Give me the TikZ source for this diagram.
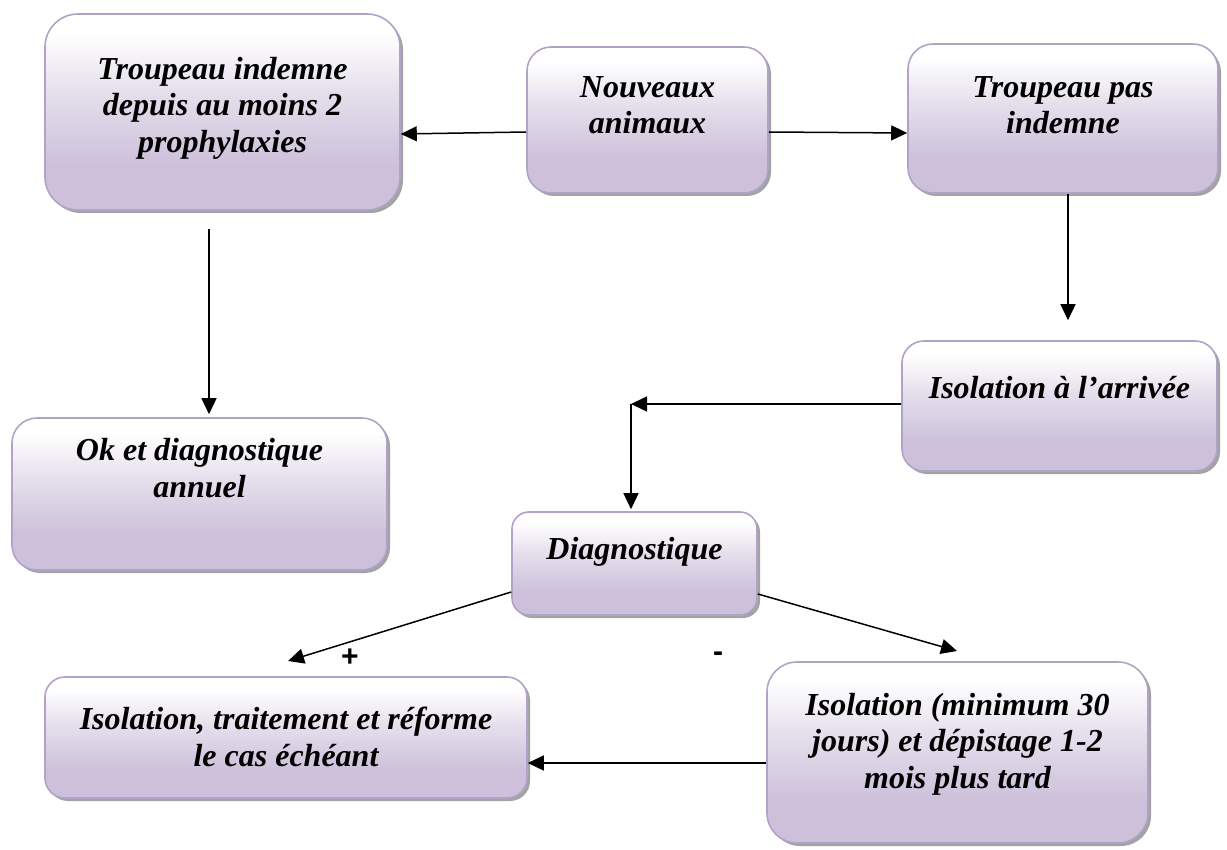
\documentclass[tikz,border=0pt]{standalone}
\usepackage{fontspec}
\setmainfont{Liberation Serif}
\newfontfamily\signfont{Liberation Sans}
\usetikzlibrary{arrows.meta,shadows}

\definecolor{lavdark}{RGB}{204,192,218}
\definecolor{lavmid}{RGB}{229,223,236}
\definecolor{lavedge}{RGB}{179,162,199}

% white at the top, lavender towards the bottom
\pgfdeclareverticalshading{boxshade}{100bp}{color(0bp)=(lavdark); color(25bp)=(lavdark); color(36bp)=(lavdark); color(55bp)=(lavmid); color(70bp)=(white); color(100bp)=(white)}

\tikzset{
  box/.style={draw=lavedge, line width=1.6pt, shading=boxshade, inner sep=0pt,
    drop shadow={shadow xshift=3pt, shadow yshift=-3pt, fill=black!40, opacity=0.9}},
  boxsize/.style 2 args={minimum width=#1pt, minimum height=#2pt},
  boxtext/.style={font=\fontsize{32}{36.5}\selectfont\bfseries\itshape, align=center, inner sep=0pt},
  sign/.style={font=\signfont\bfseries\fontsize{30}{34}\selectfont, inner sep=0pt},
  flow/.style={line width=1.5pt, -{Triangle[length=16pt,width=15pt]}},
}

\begin{document}
\begin{tikzpicture}[x=1pt, y=-1pt]
\useasboundingbox[fill=white] (0,0) rectangle (1227,850);

% boxes
\node[box, boxsize={355}{196}, rounded corners=33pt] (ind)  at (222.5,112)   {};
\node[box, boxsize={241}{146}, rounded corners=24pt] (nouv) at (647.5,120)   {};
\node[box, boxsize={310}{149}, rounded corners=25pt] (pas)  at (1063,118.5)  {};
\node[box, boxsize={315}{130}, rounded corners=22pt] (isoa) at (1059.5,406)  {};
\node[box, boxsize={375}{152}, rounded corners=25pt] (ok)   at (199.5,494)   {};
\node[box, boxsize={245}{103}, rounded corners=17pt] (diag) at (634.5,563.5) {};
\node[box, boxsize={482}{121}, rounded corners=20pt] (isot) at (286,737.5)   {};
\node[box, boxsize={381}{181}, rounded corners=30pt] (isom) at (957.5,752.5) {};

% box texts
\node[boxtext] (ind-t)  at (222.5,108) {Troupeau indemne\\depuis au moins 2\\prophylaxies};
\node[boxtext] (nouv-t) at (647.5,105) {Nouveaux\\animaux};
\node[boxtext] (pas-t)  at (1063,105)  {Troupeau pas\\indemne};
\node[boxtext] (isoa-t) at (1059.5,388){Isolation à l’arrivée};
\node[boxtext] (ok-t)   at (199.5,468) {Ok et diagnostique\\annuel};
\node[boxtext] (diag-t) at (634.5,552) {Diagnostique};
\node[boxtext] (isot-t) at (286,737)   {Isolation, traitement et réforme\\le cas échéant};
\node[boxtext] (isom-t) at (957.5,744) {Isolation (minimum 30\\jours) et dépistage 1-2\\mois plus tard};

% result signs
\node[sign] (plus)  at (350,658) {+};
\node[sign] (minus) at (718,657) {-};

% free ends and bend point
\coordinate (bend) at (631,404);
\coordinate (plusend) at (288,661);
\coordinate (minusend) at (957,651);

% connectors
\draw[flow] ([yshift=-12pt]nouv.west) -- ([yshift=-22pt]ind.east);
\draw[flow] ([yshift=-12pt]nouv.east) -- ([yshift=-14.5pt]pas.west);
\draw[flow] ([xshift=5pt]pas.south) -- ([xshift=8.5pt,yshift=20pt]isoa.north);
\draw[flow] ([xshift=-13.5pt,yshift=-18pt]ind.south) -- ([xshift=9.5pt,yshift=3pt]ok.north);
\draw[flow] ([yshift=2pt]isoa.west) -- (bend);
\draw[flow] (bend) -- ([xshift=-3.5pt,yshift=2pt]diag.north);
\draw[flow] ([yshift=-28.5pt]diag.west) -- (plusend);
\draw[flow] ([yshift=-30.5pt]diag.east) -- (minusend);
\draw[flow] ([yshift=-10.5pt]isom.west) -- ([yshift=-25.5pt]isot.east);
\end{tikzpicture}
\end{document}
